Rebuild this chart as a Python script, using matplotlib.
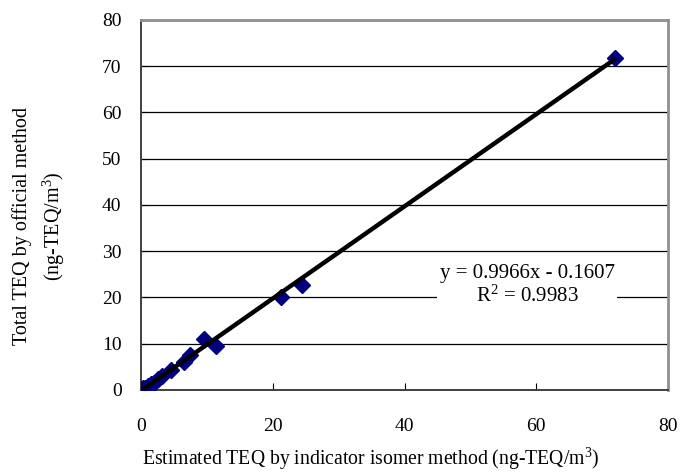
import matplotlib
matplotlib.use("Agg")
import matplotlib.pyplot as plt
import numpy as np

plt.rcParams['font.family'] = ['Liberation Serif', 'DejaVu Serif']
plt.rcParams['mathtext.fontset'] = 'custom'
plt.rcParams['mathtext.rm'] = 'Liberation Serif'
plt.rcParams['mathtext.it'] = 'Liberation Serif:italic'

# Data
est_teq = [0.1, 0.3, 0.6, 1.0, 1.5, 2.0, 2.6, 3.2, 4.5, 6.6, 7.4, 9.6, 11.4, 21.3, 24.5, 72.0]
tot_teq = [0.2, 0.5, 0.4, 0.9, 1.3, 1.6, 2.3, 3.0, 4.3, 6.0, 7.6, 11.0, 9.6, 20.0, 22.8, 71.8]
slope = 0.9966
intercept = -0.1607
r2 = 0.9983
x_ticks = [0, 20, 40, 60, 80]
y_ticks = [0, 10, 20, 30, 40, 50, 60, 70, 80]

fig = plt.figure(figsize=(6.81, 4.75), dpi=100)
ax = fig.add_axes([0.207, 0.179, 0.774, 0.779])

ax.set_xlim(0, 80)
ax.set_ylim(0, 80)
ax.set_xticks(x_ticks)
ax.set_yticks(y_ticks)
ax.yaxis.grid(True, color='black', linewidth=0.9)
ax.set_axisbelow(True)

for s in ['left', 'bottom']:
    ax.spines[s].set_color('#404040')
    ax.spines[s].set_linewidth(1.4)
for s in ['top', 'right']:
    ax.spines[s].set_color('#909090')
    ax.spines[s].set_linewidth(2.0)

ax.tick_params(axis='x', direction='in', length=5, labelsize=14, pad=20, colors='black')
ax.tick_params(axis='y', direction='in', length=4, labelsize=14, pad=14, colors='black')

ax.plot(est_teq, tot_teq, linestyle='none', marker='D', markersize=8.5,
        color='#000080', zorder=3)

xl = np.array([0.0, max(est_teq)])
ax.plot(xl, slope * xl + intercept, color='black', linewidth=3.2, zorder=4,
        solid_capstyle='butt')

ax.text(58.6, 22.6, f"y = {slope}x - {abs(intercept)}\nR$^{{2}}$ = {r2}",
        ha='center', va='center', fontsize=15, linespacing=1.15,
        bbox=dict(facecolor='white', edgecolor='none', pad=2), zorder=5)

ax.set_xlabel("Estimated TEQ by indicator isomer method (ng-TEQ/m$^{3}$)", fontsize=14.2)
ax.set_ylabel("Total TEQ by official method\n(ng-TEQ/m$^{3}$)", fontsize=14.5, linespacing=1.45)
ax.xaxis.set_label_coords(0.435, -0.15)
ax.yaxis.set_label_coords(-0.14, 0.443)

fig.savefig("out.png", dpi=100)
